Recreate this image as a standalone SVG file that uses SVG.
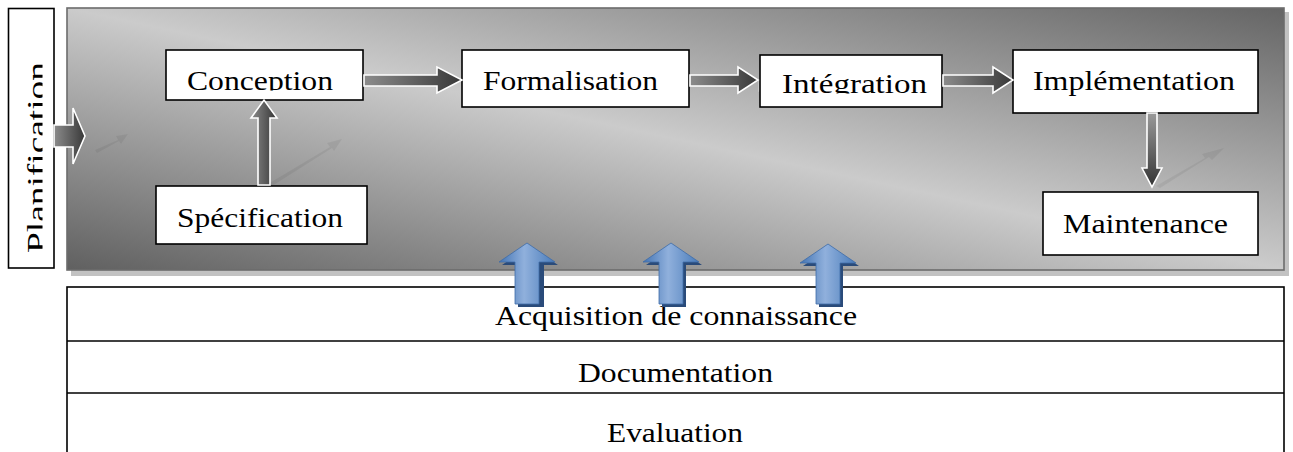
<svg xmlns="http://www.w3.org/2000/svg" width="1293" height="452" viewBox="0 0 1293 452">
<style>
.t{font-family:'Liberation Serif',serif;font-size:27px;fill:#000}
.box{fill:#fff;stroke:#000;stroke-width:1.6}
.ga{stroke:#fff;stroke-width:1.6;stroke-linejoin:miter}
.sh{fill:#000;fill-opacity:0.06}
.hl{fill:#fff;fill-opacity:0.28}
.ln{stroke:#000;stroke-width:1.6;fill:none}
</style>
<defs>
<linearGradient id="panelG" x1="0" y1="1" x2="1" y2="0">
<stop offset="0" stop-color="#606060"/>
<stop offset="0.5" stop-color="#cbcbcb"/>
<stop offset="1" stop-color="#656565"/>
</linearGradient>
<linearGradient id="gh" x1="0" y1="0" x2="1" y2="0">
<stop offset="0" stop-color="#8c8c8c"/>
<stop offset="1" stop-color="#383838"/>
</linearGradient>
<linearGradient id="gv" x1="0" y1="0" x2="0" y2="1">
<stop offset="0" stop-color="#9a9a9a"/>
<stop offset="1" stop-color="#333333"/>
</linearGradient>
<linearGradient id="gu" x1="0" y1="0" x2="1" y2="0">
<stop offset="0" stop-color="#8a8a8a"/>
<stop offset="1" stop-color="#353535"/>
</linearGradient>
<linearGradient id="gb" x1="0" y1="0" x2="1" y2="0">
<stop offset="0" stop-color="#4374b3"/>
<stop offset="0.45" stop-color="#90b0dc"/>
<stop offset="1" stop-color="#4a7cba"/>
</linearGradient>
<clipPath id="clipPlan"><rect x="9" y="9" width="33.5" height="258"/></clipPath>
<clipPath id="clipConc"><rect x="167" y="51" width="195" height="39.6"/></clipPath>
<clipPath id="clipInt"><rect x="761" y="56" width="180" height="37.6"/></clipPath>
</defs>

<!-- background panel -->
<g id="panel">
<rect x="71" y="12" width="1218" height="264" fill="#c2c2c2"/>
<rect x="67" y="8" width="1217" height="262" fill="url(#panelG)" stroke="#6c6c6c" stroke-width="1.6"/>
</g>

<!-- bottom table -->
<g id="table">
<rect x="67" y="287" width="1217" height="200" fill="#fff" class="ln"/>
<line x1="67" y1="341" x2="1284" y2="341" class="ln"/>
<line x1="67" y1="393" x2="1284" y2="393" class="ln"/>
<text class="t" x="495" y="325" textLength="362" lengthAdjust="spacingAndGlyphs">Acquisition de connaissance</text>
<text class="t" x="578" y="382" textLength="195" lengthAdjust="spacingAndGlyphs">Documentation</text>
<text class="t" x="607" y="442" textLength="136" lengthAdjust="spacingAndGlyphs">Evaluation</text>
</g>

<!-- shadows of arrows -->
<g id="shadows">
<polygon class="sh" points="95,150 118,140 116,136 128,134 121,144 119,141 97,153"/>
<polygon class="sh" points="268,184 330,147 327,143 342,139 334,151 332,148 272,186"/>
<polygon class="sh" points="1156,186 1205,158 1202,154 1224,148 1212,160 1209,157 1160,188"/>
<polygon class="hl" points="462,80 478,84 462,92"/>
<polygon class="hl" points="758,80 774,84 758,92"/>
<polygon class="hl" points="1013,80 1028,84 1013,92"/>
</g>

<g id="planification">
<rect class="box" x="8.5" y="8.5" width="45.5" height="259.5"/>
<g clip-path="url(#clipPlan)">
<text class="t" transform="translate(46,253) rotate(-90)" x="0" y="0" textLength="191" lengthAdjust="spacingAndGlyphs">Planification</text>
</g>
</g>

<g id="conception">
<rect class="box" x="166" y="50" width="197" height="50"/>
<g clip-path="url(#clipConc)">
<text class="t" x="187" y="90" textLength="146" lengthAdjust="spacingAndGlyphs">Conception</text>
</g>
</g>

<g id="specification">
<rect class="box" x="156" y="186" width="211" height="58"/>
<text class="t" x="177" y="227" textLength="166" lengthAdjust="spacingAndGlyphs">Spécification</text>
</g>

<g id="formalisation">
<rect class="box" x="462" y="50" width="227" height="57"/>
<text class="t" x="483" y="90" textLength="175" lengthAdjust="spacingAndGlyphs">Formalisation</text>
</g>

<g id="integration">
<rect class="box" x="760" y="55" width="182" height="52"/>
<g clip-path="url(#clipInt)">
<text class="t" x="782" y="93" textLength="145" lengthAdjust="spacingAndGlyphs">Intégration</text>
</g>
</g>

<g id="implementation">
<rect class="box" x="1013" y="50" width="245" height="63"/>
<text class="t" x="1033" y="90" textLength="202" lengthAdjust="spacingAndGlyphs">Implémentation</text>
</g>

<g id="maintenance">
<rect class="box" x="1043" y="192" width="215" height="63"/>
<text class="t" x="1063" y="233" textLength="165" lengthAdjust="spacingAndGlyphs">Maintenance</text>
</g>

<g id="connectors">
<polygon class="ga" fill="url(#gh)" points="54,125 73,125 73,108 85,136 73,164 73,147 54,147"/>
<polygon class="ga" fill="url(#gh)" points="364,75 437,75 437,67 462,80 437,93 437,86 364,86"/>
<polygon class="ga" fill="url(#gh)" points="690,75 738,75 738,67 758,80 738,93 738,86 690,86"/>
<polygon class="ga" fill="url(#gh)" points="943,75 993,75 993,67 1013,80 993,93 993,86 943,86"/>
<polygon class="ga" fill="url(#gu)" points="258,185 258,118 251,118 264,100 277,118 270,118 270,185"/>
<polygon class="ga" fill="url(#gv)" points="1147,113 1157,113 1157,168 1162,168 1152,187 1142,168 1147,168"/>

<g id="acq-arrows">
<polygon fill="#2a4b7a" points="530,246 558,265 544,265 544,307 518,307 518,265 502,265"/>
<polygon fill="url(#gb)" stroke="#3f6ca8" stroke-width="0.8" points="527,243 555,262 539,262 539,304 515,304 515,262 499,262"/>
<polygon fill="#2a4b7a" points="674,246 702,265 686,265 686,307 662,307 662,265 646,265"/>
<polygon fill="url(#gb)" stroke="#3f6ca8" stroke-width="0.8" points="671,243 699,262 683,262 683,304 659,304 659,262 643,262"/>
<polygon fill="#2a4b7a" points="831,247 859,266 843,266 843,307 819,307 819,266 803,266"/>
<polygon fill="url(#gb)" stroke="#3f6ca8" stroke-width="0.8" points="828,244 856,263 840,263 840,304 816,304 816,263 800,263"/>
</g>
</g>
</svg>
